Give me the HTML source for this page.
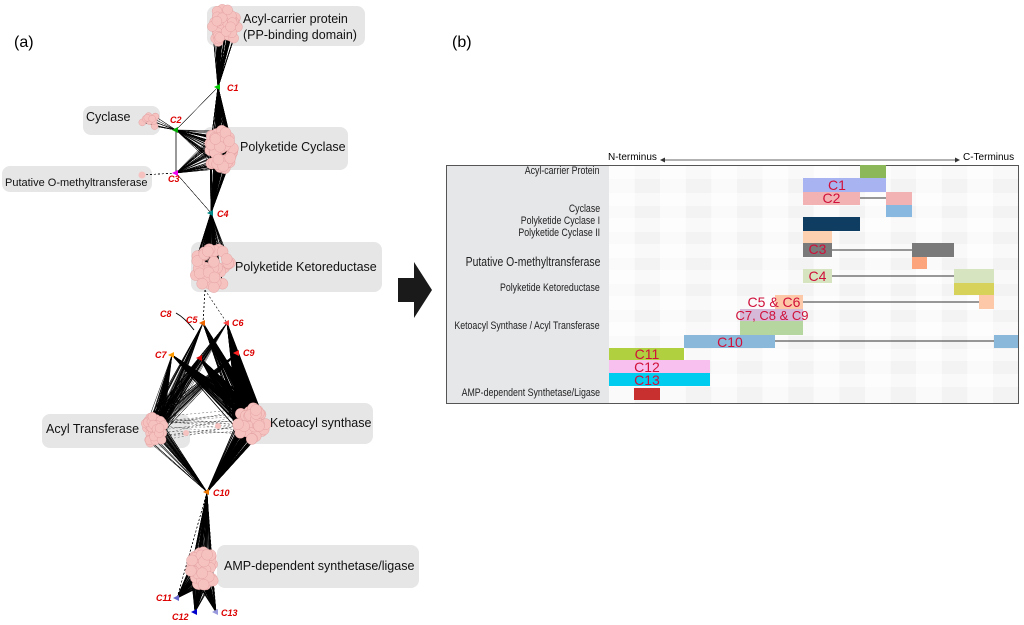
<!DOCTYPE html>
<html><head><meta charset="utf-8"><style>
body{margin:0;width:1024px;height:625px;background:#fff;overflow:hidden;font-family:"Liberation Sans",sans-serif;position:relative}
.t{position:absolute;white-space:nowrap}
.box{position:absolute;background:#e6e6e6;border-radius:8px}
.lab{position:absolute;font-size:12.5px;color:#111;white-space:nowrap}
.c{font-family:"Liberation Sans",sans-serif;font-size:9px;font-weight:bold;font-style:italic;fill:#d00}
.rl{position:absolute;right:424px;font-size:11px;color:#222;white-space:nowrap;text-align:right;transform:scaleX(0.8);transform-origin:right}
.bar{position:absolute}
.bt{position:absolute;color:#d0103a;font-size:14px;line-height:13px;text-align:center;white-space:nowrap}
</style></head><body>
<div class="t" style="left:14px;top:34px;font-size:16px">(a)</div>
<div class="t" style="left:452px;top:34px;font-size:16px">(b)</div>

<div class="box" style="left:207px;top:6px;width:158px;height:40px"></div>
<div class="box" style="left:83px;top:106px;width:77px;height:29px"></div>
<div class="box" style="left:203px;top:127px;width:145px;height:43px"></div>
<div class="box" style="left:2px;top:166px;width:150px;height:26px"></div>
<div class="box" style="left:191px;top:242px;width:191px;height:50px"></div>
<div class="box" style="left:42px;top:414px;width:148px;height:34px"></div>
<div class="box" style="left:240px;top:403px;width:133px;height:41px"></div>
<div class="box" style="left:217px;top:545px;width:202px;height:43px"></div>

<svg id="net" style="position:absolute;left:0;top:0" width="440" height="625"></svg>

<div class="lab" style="left:243px;top:11px;line-height:16px">Acyl-carrier protein<br>(PP-binding domain)</div>
<div class="lab" style="left:86px;top:110px">Cyclase</div>
<div class="lab" style="left:240px;top:140px">Polyketide Cyclase</div>
<div class="lab" style="left:5px;top:177px;font-size:11px">Putative O-methyltransferase</div>
<div class="lab" style="left:235px;top:260px">Polyketide Ketoreductase</div>
<div class="lab" style="left:46px;top:422px">Acyl Transferase</div>
<div class="lab" style="left:270px;top:416px">Ketoacyl synthase</div>
<div class="lab" style="left:224px;top:559px">AMP-dependent synthetase/ligase</div>

<svg style="position:absolute;left:396px;top:260px" width="40" height="60"><polygon points="2,18 18,18 18,2 36,30 18,58 18,42 2,42" fill="#1a1a1a"/></svg>

<div class="t" style="left:608px;top:152px;font-size:10px">N-terminus</div>
<div class="t" style="left:963px;top:152px;font-size:10px">C-Terminus</div>
<svg style="position:absolute;left:660px;top:155px" width="300" height="10"><line x1="3" y1="5" x2="297" y2="5" stroke="#333" stroke-width="0.8"/><polygon points="0,5 5,2.5 5,7.5" fill="#333"/><polygon points="300,5 295,2.5 295,7.5" fill="#333"/></svg>
<div style="position:absolute;left:446px;top:165px;width:571px;height:237px;border:1px solid #555;background:#fff;overflow:hidden">
<div style="position:absolute;left:0;top:0;width:162px;height:237px;background:#e6e7e9"></div>
<svg id="grid" style="position:absolute;left:162px;top:0" width="410" height="237"></svg>
</div>
<div class="rl" style="top:165px">Acyl-carrier Protein</div>
<div class="rl" style="top:203px">Cyclase</div>
<div class="rl" style="top:215px">Polyketide Cyclase I</div>
<div class="rl" style="top:227px">Polyketide Cyclase II</div>
<div class="rl" style="top:254px;font-size:13px">Putative O-methyltransferase</div>
<div class="rl" style="top:282px">Polyketide Ketoreductase</div>
<div class="rl" style="top:320px">Ketoacyl Synthase / Acyl Transferase</div>
<div class="rl" style="top:387px">AMP-dependent Synthetase/Ligase</div>

<svg style="position:absolute;left:0;top:0" width="1024" height="625">
<g stroke="#333" stroke-width="1">
<line x1="860" y1="198" x2="886" y2="198"/>
<line x1="832" y1="250" x2="912" y2="250"/>
<line x1="832" y1="276" x2="954" y2="276"/>
<line x1="803" y1="302" x2="979" y2="302"/>
<line x1="775" y1="341" x2="994" y2="341"/>
</g></svg>
<div class="bar" style="left:860px;top:165px;width:26px;height:13px;background:#8cb85a"></div>
<div class="bar" style="left:803px;top:178px;width:83px;height:14px;background:#a8b4f2"></div>
<div class="bar" style="left:803px;top:192px;width:57px;height:13px;background:#f2b2b4"></div>
<div class="bar" style="left:886px;top:192px;width:26px;height:13px;background:#f2b2b4"></div>
<div class="bar" style="left:886px;top:205px;width:26px;height:12px;background:#88b8e0"></div>
<div class="bar" style="left:803px;top:217px;width:57px;height:14px;background:#0f3d62"></div>
<div class="bar" style="left:803px;top:231px;width:29px;height:12px;background:#fdd0b0"></div>
<div class="bar" style="left:803px;top:243px;width:29px;height:14px;background:#7a7a7a"></div>
<div class="bar" style="left:912px;top:243px;width:42px;height:14px;background:#7a7a7a"></div>
<div class="bar" style="left:912px;top:257px;width:15px;height:12px;background:#fca47c"></div>
<div class="bar" style="left:803px;top:269px;width:29px;height:14px;background:#d6e5c0"></div>
<div class="bar" style="left:954px;top:269px;width:40px;height:14px;background:#d6e5c0"></div>
<div class="bar" style="left:954px;top:283px;width:40px;height:12px;background:#d6d25a"></div>
<div class="bar" style="left:775px;top:295px;width:28px;height:14px;background:#fdc8a8"></div>
<div class="bar" style="left:979px;top:295px;width:15px;height:14px;background:#fdc8a8"></div>
<div class="bar" style="left:740px;top:309px;width:63px;height:12px;background:#d6b8d8"></div>
<div class="bar" style="left:740px;top:321px;width:63px;height:14px;background:#b6d6a0"></div>
<div class="bar" style="left:684px;top:335px;width:91px;height:13px;background:#8ab8da"></div>
<div class="bar" style="left:994px;top:335px;width:24px;height:13px;background:#8ab8da"></div>
<div class="bar" style="left:609px;top:348px;width:75px;height:12px;background:#b0d040"></div>
<div class="bar" style="left:609px;top:360px;width:101px;height:13px;background:#f8c0ee"></div>
<div class="bar" style="left:609px;top:373px;width:101px;height:13px;background:#00ccf0"></div>
<div class="bar" style="left:634px;top:388px;width:26px;height:12px;background:#c83030"></div>

<div class="bt" style="left:803px;top:179px;width:68px">C1</div>
<div class="bt" style="left:803px;top:192px;width:57px">C2</div>
<div class="bt" style="left:803px;top:243px;width:29px">C3</div>
<div class="bt" style="left:803px;top:270px;width:29px">C4</div>
<div class="bt" style="left:744px;top:296px;width:60px">C5 &amp; C6</div>
<div class="bt" style="left:732px;top:309px;width:80px;font-size:13px">C7, C8 &amp; C9</div>
<div class="bt" style="left:700px;top:336px;width:60px">C10</div>
<div class="bt" style="left:617px;top:348px;width:60px">C11</div>
<div class="bt" style="left:617px;top:361px;width:60px">C12</div>
<div class="bt" style="left:617px;top:374px;width:60px">C13</div>

<script>
(function(){
var g=document.getElementById('grid'),s='';
var w=25.6;
for(var i=0;i<16;i++){var sh=(i%2)?'#f3f3f3':'#fafafa';s+='<rect x="'+(i*w)+'" y="0" width="'+w+'" height="237" fill="'+sh+'"/>';}
var rows=[0,13,27,40,52,66,78,92,104,118,130,144,156,170,183,195,208,221,237];
for(var j=0;j<rows.length-1;j+=2)s+='<rect x="0" y="'+rows[j]+'" width="410" height="'+(rows[j+1]-rows[j])+'" fill="#fff" opacity="0.5"/>';
g.innerHTML=s;

var seed=7;function r(){seed=(seed*16807)%2147483647;return seed/2147483647;}
var n=document.getElementById('net'),o='';
function cl(cx,cy,rx,ry,k){var p=[];for(var i=0;i<(k||45);i++){var a=r()*6.283,d=Math.sqrt(r());p.push([cx+Math.cos(a)*d*rx,cy+Math.sin(a)*d*ry]);}return p;}
var ACP=cl(224,27,14,19),CYC=cl(149,121,9,7,12),PKC=cl(220,150,13,20),PKR=cl(212,268,19,20),AT=cl(154,430,11,14),KS=cl(252,424,15,16),AMP=cl(203,570,13,20);
var N={C1:[218,87],C2:[176,130],C3:[176,173],C4:[211,213],C5:[203,323],C6:[227,323],C7:[172,355],C8:[175,315],C9:[237,353],C10:[207,492],C11:[177,598],C12:[195,612],C13:[216,612],X:[200,358]};
function L(a,b,k,wd,dash){for(var i=0;i<k;i++){var p=a[Math.floor(r()*a.length)],q=b[Math.floor(r()*b.length)];o+='<line x1="'+p[0].toFixed(1)+'" y1="'+p[1].toFixed(1)+'" x2="'+q[0].toFixed(1)+'" y2="'+q[1].toFixed(1)+'" stroke="#000" stroke-width="'+wd+'"'+(dash?' stroke-dasharray="2,2"':'')+'/>';}}
function P(n){return [N[n]];}
L(ACP,P('C1'),150,0.7);L(P('C1'),PKC,120,0.7);L(P('C2'),PKC,80,0.5);L(P('C3'),PKC,70,0.5);
L(CYC,P('C2'),14,0.5);L([[142,175]],P('C3'),4,0.5,1);L(P('C1'),P('C2'),3,0.5);L(P('C2'),P('C3'),1,0.8);L(P('C3'),P('C4'),3,0.5);
L(PKC,P('C4'),120,0.7);L(P('C4'),PKR,150,0.7);L([[205,290],[225,290]],[N.C5,N.C6],4,0.6,1);
['C5','C6','C9','X'].forEach(function(k){L(P(k),KS,180,0.7);L(P(k),AT,50,0.4);});
L(P('C7'),KS,120,0.7);L(P('C7'),AT,60,0.5);
L(KS,P('C10'),220,0.7);L(AT,P('C10'),100,0.4);L(AT,KS,20,0.3,1);
L(P('C10'),AMP,100,0.5);L(P('C10'),[N.C11,N.C12,N.C13],12,0.4,1);
['C11','C12','C13'].forEach(function(k){L(AMP,P(k),70,0.7);});
o+='<path d="M194,330 Q185,318 176,313" stroke="#000" fill="none" stroke-width="1"/>';
function circ(a,rad){a.forEach(function(p){o+='<circle cx="'+p[0].toFixed(1)+'" cy="'+p[1].toFixed(1)+'" r="'+rad+'" fill="#f6c2c0" stroke="#d99" stroke-width="0.4"/>';});}
circ(ACP,5);circ(CYC,3.5);circ(PKC,5.5);circ(PKR,5.5);circ(AT,4.5);circ(KS,5.5);circ(AMP,5.5);
o+='<circle cx="142" cy="175" r="3.5" fill="#f6c2c0"/><circle cx="186" cy="433" r="3" fill="#f6c2c0"/><circle cx="218" cy="426" r="3" fill="#f6c2c0"/>';
var col={C1:'#0c0',C2:'#0a0',C3:'#e0e',C4:'#088',C5:'#e60',C6:'#f44',C7:'#f90',C8:'#000',C9:'#f22',C10:'#e70',C11:'#66c',C12:'#00c',C13:'#99d',X:'#d00'};
for(var k in N){if(k=='C8')continue;var p=N[k];o+='<polygon points="'+(p[0]-4)+','+p[1]+' '+(p[0]+2)+','+(p[1]-3)+' '+(p[0]+2)+','+(p[1]+3)+'" fill="'+col[k]+'"/>';}
var lb={C1:[227,91],C2:[170,123],C3:[168,182],C4:[217,217],C5:[186,323],C6:[232,326],C7:[155,358],C8:[160,317],C9:[243,356],C10:[213,496],C11:[156,601],C12:[172,620],C13:[221,616]};
for(var k in lb)o+='<text class="c" x="'+lb[k][0]+'" y="'+lb[k][1]+'">'+k+'</text>';
n.innerHTML=o;
})();
</script>
</body></html>
